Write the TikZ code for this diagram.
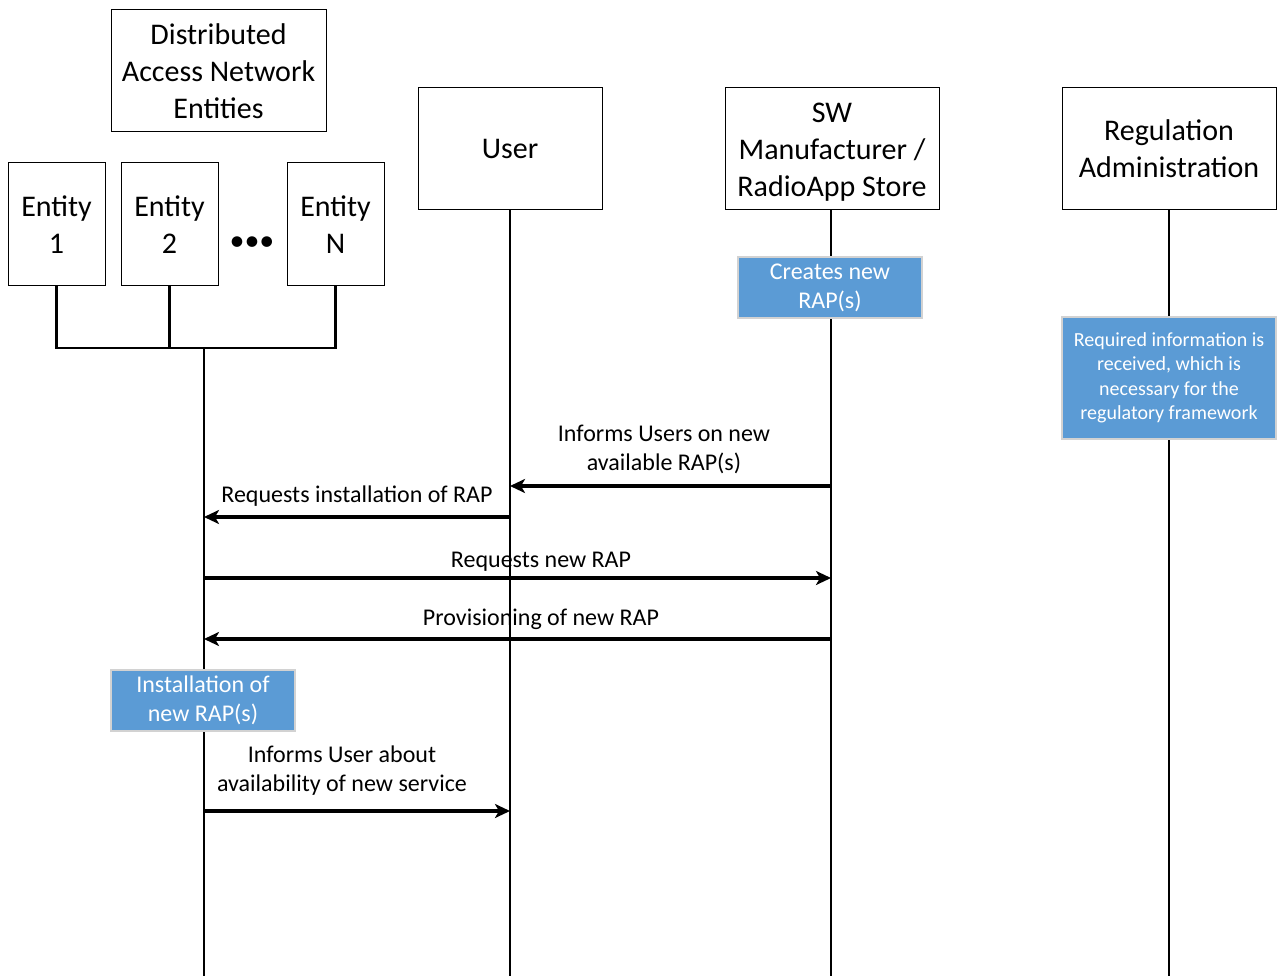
\documentclass[tikz,border=0pt]{standalone}
\usepackage{fontspec}
\setmainfont{Carlito}
\usetikzlibrary{arrows.meta}
\definecolor{bluebox}{HTML}{5B9BD5}
\begin{document}
\begin{tikzpicture}[x=1pt,y=-1pt,
 box/.style={draw=black, line width=1pt, align=center, inner sep=0pt, font=\fontsize{30}{37}\selectfont},
 note/.style={fill=bluebox, draw=gray!35, line width=1.5pt, text=white, align=center, inner sep=0pt},
 life/.style={line width=2.3pt},
 msg/.style={line width=3.3pt, -{Stealth[length=15pt,width=14pt,inset=4pt]}},
 lbl/.style={align=center, inner sep=0pt, font=\fontsize{24}{29}\selectfont}]
\useasboundingbox (0,0) rectangle (1277,976);
% header boxes
\node[box, minimum width=215pt, minimum height=122pt] (dane) at (218.5,71) {Distributed\\Access Network\\Entities};
\node[box, minimum width=97pt, minimum height=123pt] (e1) at (56.5,224.5) {Entity\\1};
\node[box, minimum width=97pt, minimum height=123pt] (e2) at (169.5,224.5) {Entity\\2};
\node[box, minimum width=97pt, minimum height=123pt] (eN) at (335.5,224.5) {Entity\\N};
\node[font=\fontsize{30}{37}\selectfont, inner sep=0pt] (dots) at (252,244) {•••};
\node[box, minimum width=184pt, minimum height=122pt] (user) at (510,149) {User};
\node[box, minimum width=214pt, minimum height=122pt] (sw) at (832,149) {\rule{0pt}{25.5pt}SW\\Manufacturer /\\RadioApp Store};
\node[box, minimum width=214pt, minimum height=122pt] (reg) at (1169,149) {Regulation\\Administration};
% bus and lifelines
\coordinate (bus) at (204,348);
\coordinate (bottom) at (204,976);
\draw[life] (e1.south) |- (eN.south |- bus) -- (eN.south);
\draw[life] (e2.south) -- (e2.south |- bus);
\draw[life] (bus) -- (bottom);
\draw[life] (user.south) -- (user.south |- bottom);
\draw[life] ([xshift=-1pt]sw.south) -- ([xshift=-1pt]sw.south |- bottom);
\draw[life] (reg.south) -- (reg.south |- bottom);
% notes
\node[note, minimum width=184pt, minimum height=61pt, font=\fontsize{24}{29}\selectfont] (create) at (830,287.5) {Creates new\\RAP(s)};
\node[note, minimum width=214pt, minimum height=122pt, font=\fontsize{20}{24.5}\selectfont] (req) at (1169,378) {Required information is\\received, which is\\necessary for the\\regulatory framework};
\node[note, minimum width=184pt, minimum height=61pt, font=\fontsize{24}{29}\selectfont] (inst) at (203,700.5) {Installation of\\new RAP(s)};
% messages
\coordinate (m1) at (0,486);
\coordinate (m2) at (0,517);
\coordinate (m3) at (0,578);
\coordinate (m4) at (0,639);
\coordinate (m5) at (0,811);
\draw[msg] ([xshift=-1pt]sw.south |- m1) -- (user.south |- m1);
\draw[msg] (user.south |- m2) -- (bus |- m2);
\draw[msg] (bus |- m3) -- ([xshift=-1pt]sw.south |- m3);
\draw[msg] ([xshift=-1pt]sw.south |- m4) -- (bus |- m4);
\draw[msg] (bus |- m5) -- (user.south |- m5);
% labels
\node[lbl] (l1) at (664,449) {Informs Users on new\\available RAP(s)};
\node[lbl] (l2) at (357,496) {Requests installation of RAP};
\node[lbl] (l3) at (541,562) {Requests new RAP};
\node[lbl] (l4) at (541,619) {Provisioning of new RAP};
\node[lbl] (l5) at (342,771) {Informs User about\\availability of new service};
\end{tikzpicture}
\end{document}
